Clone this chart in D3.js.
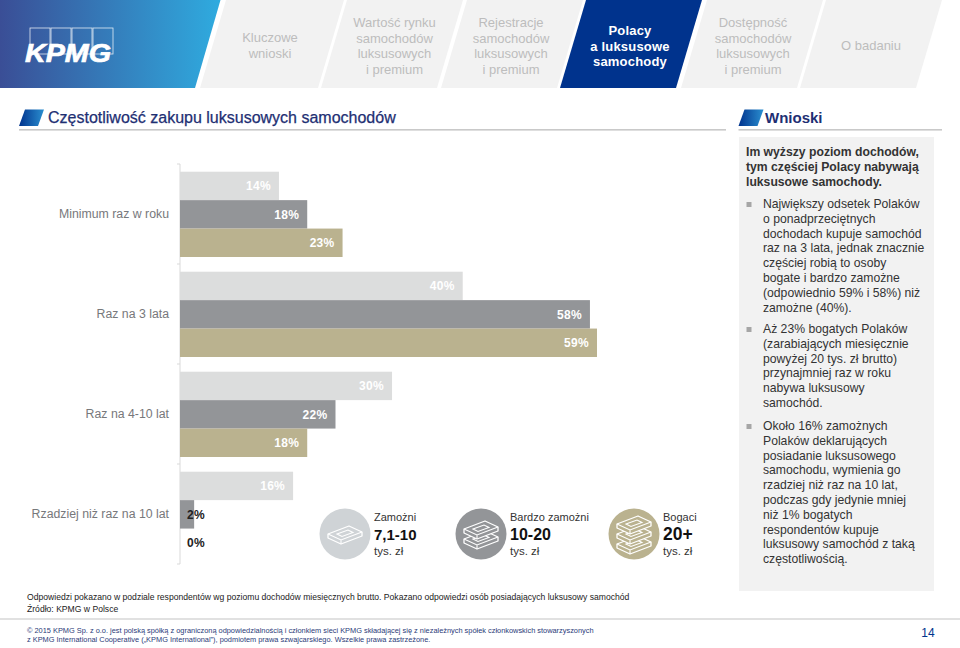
<!DOCTYPE html>
<html><head><meta charset="utf-8">
<script src="https://cdnjs.cloudflare.com/ajax/libs/d3/7.8.5/d3.min.js"></script>
<style>html,body{margin:0;padding:0;background:#fff}svg{display:block;font-family:"Liberation Sans",Arial,sans-serif}</style>
</head><body><svg id="c" width="960" height="648"></svg>
<script>
const categories=["Minimum raz w roku","Raz na 3 lata","Raz na 4-10 lat","Rzadziej niż raz na 10 lat"];
const seriesNames=["Zamożni","Bardzo zamożni","Bogaci"];
const zamozni=[14,40,30,16];
const bardzoZamozni=[18,58,22,2];
const bogaci=[23,59,18,0];
const seriesColors=["#dcdddd","#939598","#bab28f"];
const incomeRanges=["7,1-10","10-20","20+"];
const legendColors=["#cfd3d6","#939598","#bab28f"];
const stackCounts=[1,2,3];
const tabs=[["Kluczowe","wnioski"],["Wartość rynku","samochodów","luksusowych","i premium"],["Rejestracje","samochodów","luksusowych","i premium"],["Polacy","a luksusowe","samochody"],["Dostępność","samochodów","luksusowych","i premium"],["O badaniu"]];
const tabEdges=[[200,318],[321,437],[441,557],[560,676],[681,797],[800,916]];
const tabCenters=[270,394.5,511,630,753,871];
const insightHead=["Im wyższy poziom dochodów,","tym częściej Polacy nabywają","luksusowe samochody."];
const insights=[["Największy odsetek Polaków","o ponadprzeciętnych","dochodach kupuje samochód","raz na 3 lata, jednak znacznie","częściej robią to osoby","bogate i bardzo zamożne","(odpowiednio 59% i 58%) niż","zamożne (40%)."],
["Aż 23% bogatych Polaków","(zarabiających miesięcznie","powyżej 20 tys. zł brutto)","przynajmniej raz w roku","nabywa luksusowy","samochód."],
["Około 16% zamożnych","Polaków deklarujących","posiadanie luksusowego","samochodu, wymienia go","rzadziej niż raz na 10 lat,","podczas gdy jedynie mniej","niż 1% bogatych","respondentów kupuje","luksusowy samochód z taką","częstotliwością."]];

const svg=d3.select("#c");
const defs=svg.append("defs");
const g1=defs.append("linearGradient").attr("id","logo");
g1.append("stop").attr("offset",0).attr("stop-color","#3a4e96");
g1.append("stop").attr("offset",1).attr("stop-color","#2fabdf");
const g2=defs.append("linearGradient").attr("id","mark");
g2.append("stop").attr("offset",0).attr("stop-color","#00338d");
g2.append("stop").attr("offset",1).attr("stop-color","#2b8fd0");

// header
svg.append("path").attr("d","M0 0H220.5L195 88H0Z").attr("fill","url(#logo)");
const logo=svg.append("g");
[30,51,72,93].forEach(x=>logo.append("rect").attr("x",x).attr("y",28).attr("width",20).attr("height",26).attr("fill","none").attr("stroke","#fff").attr("stroke-width",.8).attr("opacity",.85));
logo.append("text").attr("x",25).attr("y",62).attr("fill","#fff").attr("stroke","#fff").attr("stroke-width",.7).attr("font-size",25.5).attr("font-weight",700).attr("font-style","italic").attr("textLength",86).attr("lengthAdjust","spacingAndGlyphs").text("KPMG");
tabs.forEach((lines,i)=>{
  const [l,r]=tabEdges[i],active=i===3;
  svg.append("path").attr("d",`M${l} 88L${l+26} 0H${r+26}L${r} 88Z`).attr("fill",active?"#00338d":"#f2f2f2");
  const lh=15.5, y0=(lines.length===4?27:lines.length===3?35:lines.length===2?42:50);
  lines.forEach((t,k)=>svg.append("text").attr("x",tabCenters[i]).attr("y",y0+k*lh).attr("text-anchor","middle").attr("font-size",13).attr("font-weight",active?700:400).attr("letter-spacing",active?.2:0).attr("fill",active?"#fff":"#bdbdbd").text(t));
});

// section headers
function section(x0,x1,tx,label){
  svg.append("path").attr("d",`M${x0} 126L${x0+6} 109.5H${x0+25}L${x0+19} 126Z`).attr("fill","url(#mark)");
  svg.append("rect").attr("x",x0).attr("y",129).attr("width",x1-x0).attr("height",1.6).attr("fill","#c9c9c9");
  return svg.append("text").attr("x",tx).attr("y",123).attr("fill","#1e2f73").text(label);
}
section(19,726,48,"Częstotliwość zakupu luksusowych samochodów").attr("font-size",16).attr("stroke","#1e2f73").attr("stroke-width",.25);
section(738.5,942,765,"Wnioski").attr("font-size",15).attr("font-weight",700);

// chart
const x=d3.scaleLinear().domain([0,59]).range([180,597]);
const y=d3.scaleBand().domain(categories).range([164,564]);
const s=d3.scaleBand().domain(seriesNames).range([7.7,93]);
const axis=d3.axisLeft(y).tickSize(0).tickPadding(11);
const ag=svg.append("g").attr("transform","translate(180,0)").call(axis);
ag.select(".domain").attr("stroke","#d9d9d9").attr("d","M-3 164H0V564H-3");
ag.selectAll("text").attr("font-size",12.3).attr("font-family","inherit").attr("fill","#77787b");
[264,364,464].forEach(t=>ag.append("line").attr("x1",-3).attr("x2",0).attr("y1",t).attr("y2",t).attr("stroke","#d9d9d9"));
const rows=[zamozni,bardzoZamozni,bogaci];
rows.forEach((vals,si)=>{
  const g=svg.append("g");
  const top=c=>y(c)+s(seriesNames[si]);
  g.selectAll("rect").data(vals).join("rect")
   .attr("x",x(0)).attr("y",(d,i)=>top(categories[i])).attr("width",d=>x(d)-x(0)).attr("height",s.bandwidth()).attr("fill",seriesColors[si]);
  g.selectAll("text").data(vals).join("text")
   .attr("x",d=>d<5?x(0)+25:x(d)-8).attr("y",(d,i)=>top(categories[i])+s.bandwidth()/2+4.5)
   .attr("text-anchor","end").attr("font-size",12).attr("font-weight",700).attr("letter-spacing",.3)
   .attr("fill",d=>d<5?"#222":"#fff").text(d=>d+"%");
});

// legend
const lx=[345,481,634], tx=[374,510,663];
const rangeSizes=[15,16,17.5];
function stack(g,count,cx,cy){
  const h=10;
  for(let k=0;k<count;k++){
    const dy=(count-1-2*k)*h/2+1;
    g.append("path").attr("d",`M${cx-17} ${cy+dy-1}L${cx+4} ${cy+dy-9}L${cx+17} ${cy+dy-3}V${cy+dy+1}L${cx-4} ${cy+dy+9}L${cx-17} ${cy+dy+3}Z`).attr("fill",legendColors[stackCounts.indexOf(count)]).attr("stroke","#fff").attr("stroke-width",1.3).attr("stroke-linejoin","round");
    g.append("path").attr("d",`M${cx-17} ${cy+dy-1}L${cx-4} ${cy+dy+5}L${cx+17} ${cy+dy-3}M${cx-4} ${cy+dy+5}V${cy+dy+9}M${cx-8} ${cy+dy-1}L${cx+3} ${cy+dy-5}L${cx+8} ${cy+dy-2.5}L${cx-3} ${cy+dy+1.5}Z`).attr("fill","none").attr("stroke","#fff").attr("stroke-width",1.1);
  }
}
seriesNames.forEach((n,i)=>{
  const g=svg.append("g");
  g.append("circle").attr("cx",lx[i]).attr("cy",534).attr("r",25.5).attr("fill",legendColors[i]);
  stack(g,stackCounts[i],lx[i],534);
  g.append("text").attr("x",tx[i]).attr("y",521).attr("font-size",11).attr("fill","#333").text(n);
  g.append("text").attr("x",tx[i]).attr("y",540).attr("font-size",rangeSizes[i]).attr("font-weight",700).attr("fill","#111").text(incomeRanges[i]);
  g.append("text").attr("x",tx[i]).attr("y",555).attr("font-size",11.5).attr("fill","#333").text("tys. zł");
});

// insights
svg.append("rect").attr("x",739).attr("y",137).attr("width",195).attr("height",454).attr("fill","#f2f2f2");
insightHead.forEach((t,i)=>svg.append("text").attr("x",746).attr("y",156+i*15).attr("font-size",12.2).attr("font-weight",700).attr("fill","#333").text(t));
const starts=[208,333,430];
insights.forEach((b,i)=>{
  svg.append("rect").attr("x",746.5).attr("y",starts[i]-6).attr("width",5).attr("height",5).attr("fill","#a6a6a6");
  b.forEach((t,k)=>svg.append("text").attr("x",763).attr("y",starts[i]+k*14.8).attr("font-size",12.2).attr("fill","#333").text(t));
});

// footer
svg.append("text").attr("x",27).attr("y",600).attr("font-size",8.6).attr("fill","#222").text("Odpowiedzi pokazano w podziale respondentów wg poziomu dochodów miesięcznych brutto. Pokazano odpowiedzi osób posiadających luksusowy samochód");
svg.append("text").attr("x",27).attr("y",612).attr("font-size",8.6).attr("fill","#222").text("Źródło: KPMG w Polsce");
svg.append("rect").attr("x",0).attr("y",618.5).attr("width",960).attr("height",1).attr("fill","#c4c4c4");
svg.append("text").attr("x",27).attr("y",633).attr("font-size",7.4).attr("fill","#2a3a78").text("© 2015 KPMG Sp. z o.o. jest polską spółką z ograniczoną odpowiedzialnością i członkiem sieci KPMG składającej się z niezależnych spółek członkowskich stowarzyszonych");
svg.append("text").attr("x",27).attr("y",642).attr("font-size",7.4).attr("fill","#2a3a78").text("z KPMG International Cooperative („KPMG International”), podmiotem prawa szwajcarskiego. Wszelkie prawa zastrzeżone.");
svg.append("text").attr("x",928).attr("y",637).attr("text-anchor","middle").attr("font-size",12).attr("fill","#00338d").text("14");
</script></body></html>
